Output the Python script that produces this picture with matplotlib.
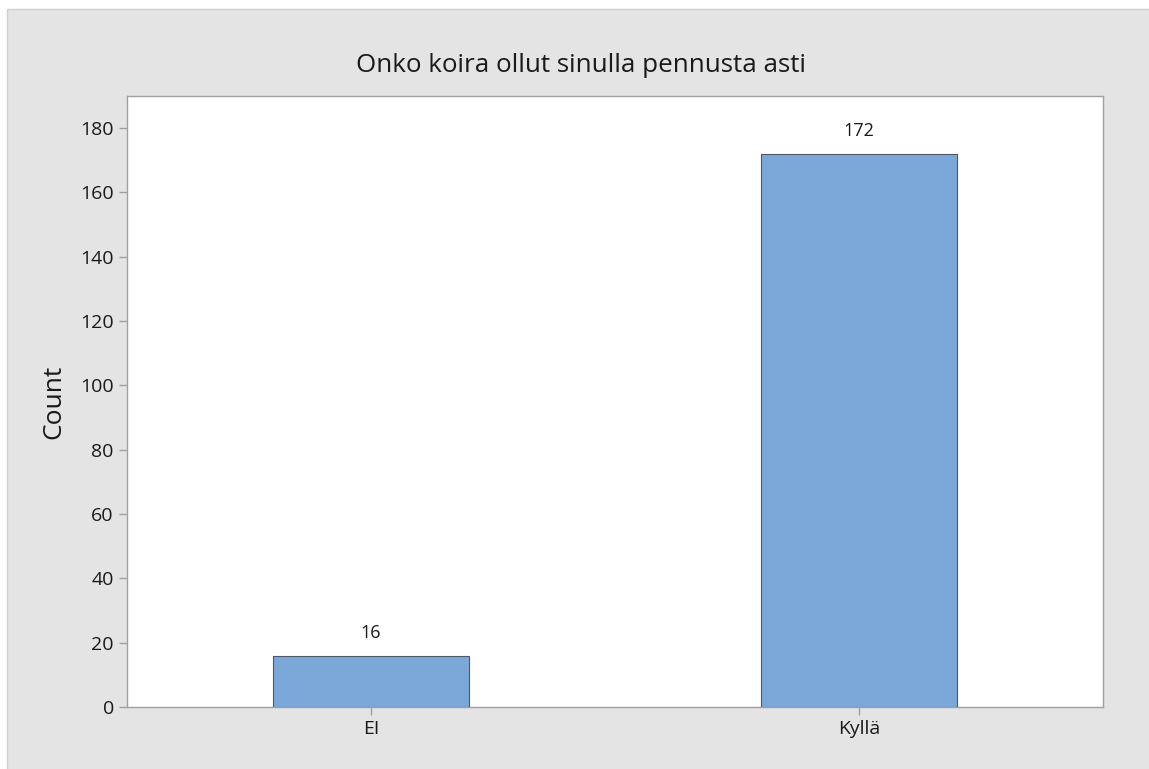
import matplotlib
matplotlib.use("Agg")
import matplotlib.pyplot as plt
from matplotlib.patches import Rectangle

categories = ["EI", "Kyllä"]
counts = [16, 172]
yticks = [0, 20, 40, 60, 80, 100, 120, 140, 160, 180]
title = "Onko koira ollut sinulla pennusta asti"
ylabel = "Count"

plt.rcParams['font.family'] = ['Open Sans', 'DejaVu Sans']

W, H = 1149, 769
fig = plt.figure(figsize=(W / 100, H / 100), dpi=100)
fig.patch.set_facecolor("white")
# gray background panel with thin border on top and left
bg = Rectangle((7 / W, -0.05), 1.1, 1.05 - 9 / H, transform=fig.transFigure,
               facecolor="#e4e4e4", edgecolor="#d0d0d0", linewidth=1, zorder=-10)
fig.patches.append(bg)

left, right, top, bottom = 127, 1103, 96, 707
ax = fig.add_axes([left / W, 1 - bottom / H, (right - left) / W, (bottom - top) / H])
ax.set_facecolor("white")

x = list(range(len(categories)))
ax.bar(x, counts, width=0.4, color="#7ba7d9", edgecolor="#4f5866", linewidth=0.8, zorder=3)
for xi, c in zip(x, counts):
    ax.annotate(str(c), (xi, c), xytext=(0, 10), textcoords="offset points",
                ha="center", va="bottom", fontsize=13, color="#1a1a1a")

ax.set_xlim(-0.5, 1.5)
ax.set_ylim(0, 190)
ax.set_xticks(x)
ax.set_xticklabels(categories)
ax.set_yticks(yticks)
ax.tick_params(axis="both", colors="#a0a0a0", labelcolor="#1a1a1a", labelsize=14,
               length=6, width=1)
for s in ax.spines.values():
    s.set_color("#a0a0a0")
    s.set_linewidth(1)

ax.set_ylabel(ylabel, fontsize=19, color="#1a1a1a", labelpad=10)
fig.text(581 / W, 1 - 66 / H, title, ha="center", va="center",
         fontsize=18.7, color="#1a1a1a")

fig.savefig("out.png", dpi=100, facecolor=fig.get_facecolor())
